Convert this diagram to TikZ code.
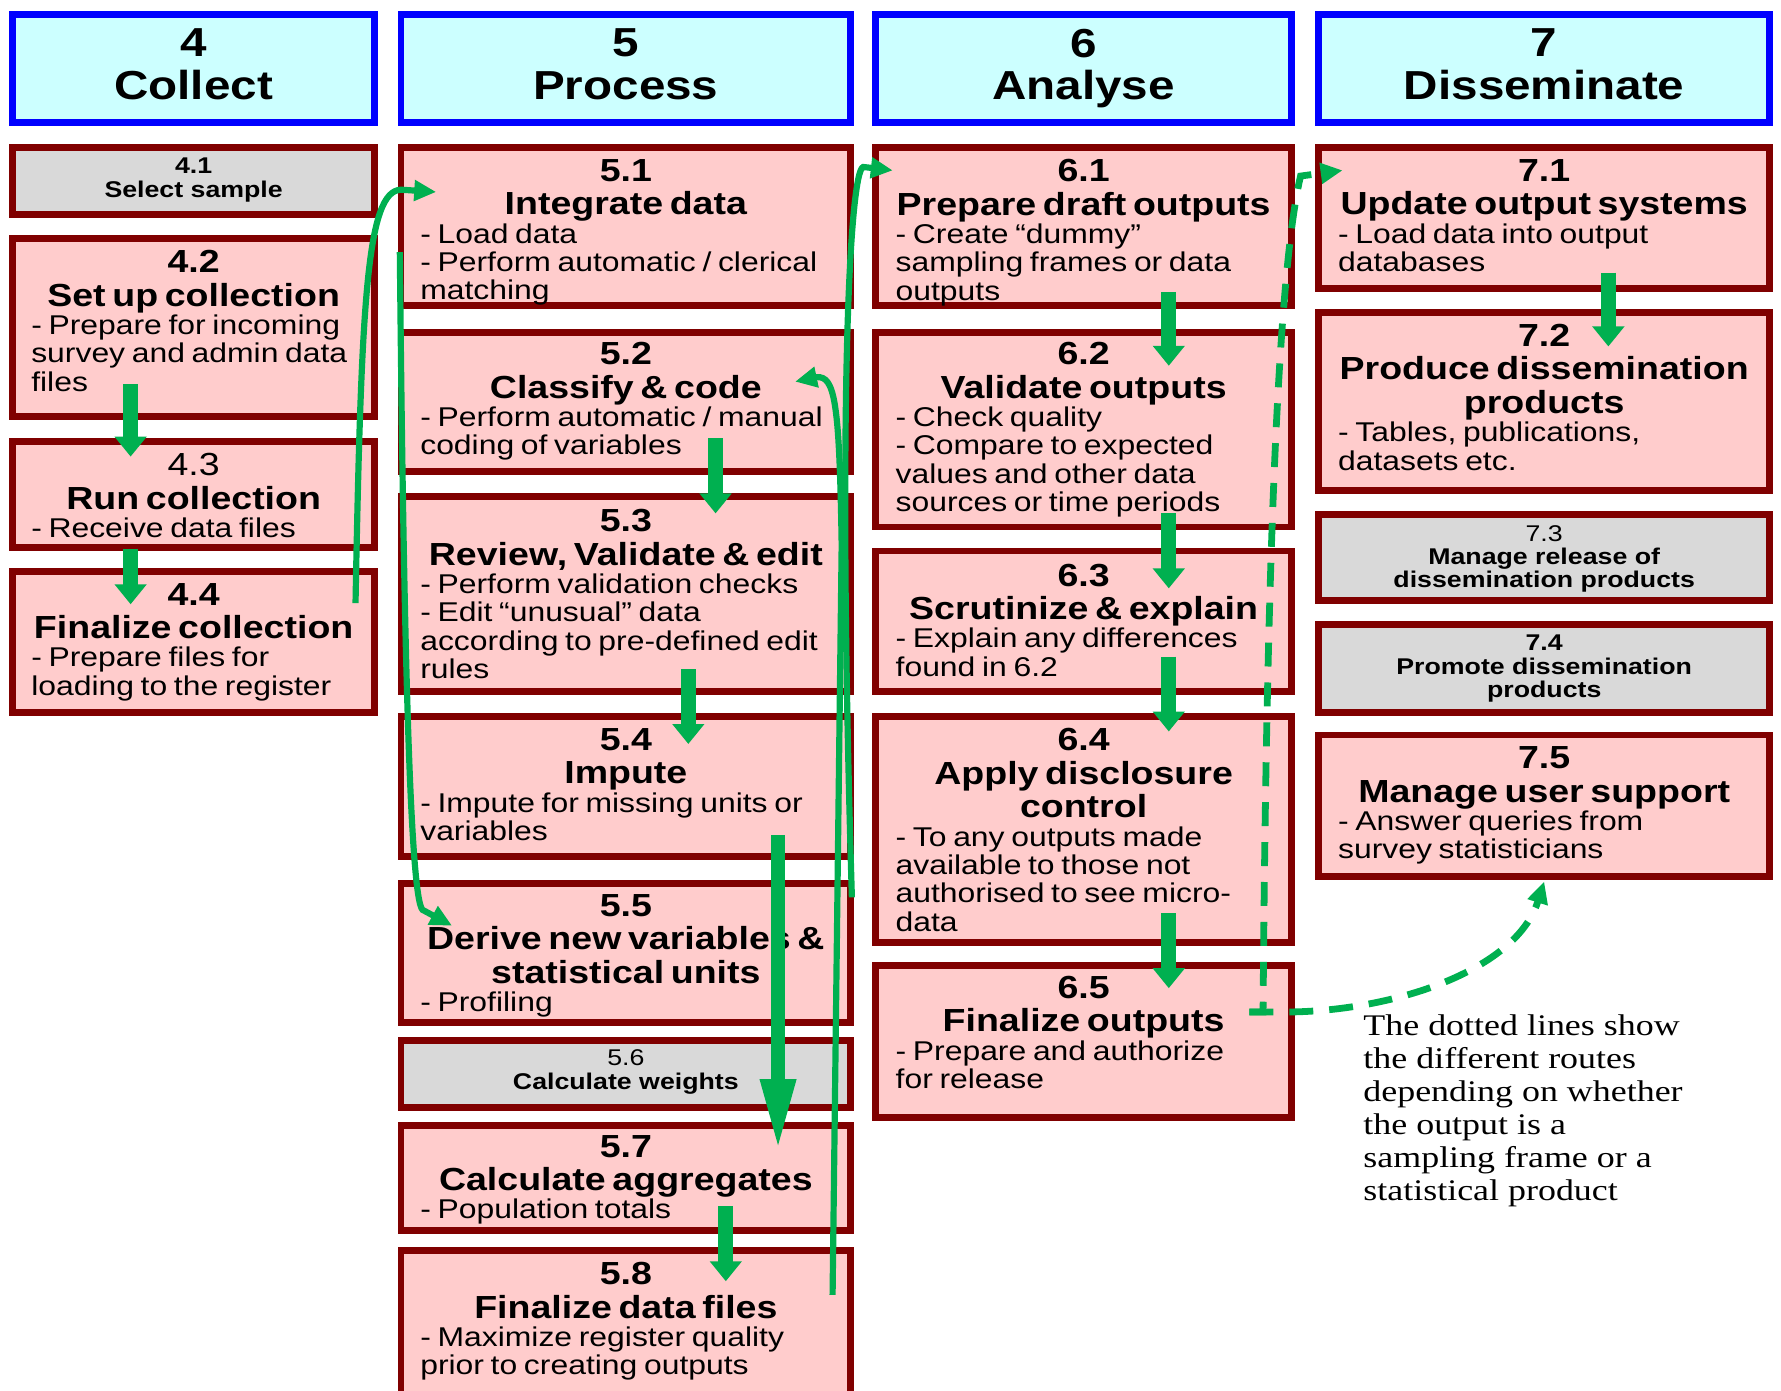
\documentclass[tikz,border=0pt]{standalone}
\usepackage{fontspec}
\setmainfont{Liberation Sans}[FakeStretch=1.175]
\newfontfamily\notefont{Liberation Serif}[FakeStretch=1.2]
\usetikzlibrary{calc,fit,arrows.meta}
\definecolor{hdcyan}{HTML}{CCFFFF}
\definecolor{hdblue}{HTML}{0000FF}
\definecolor{stpink}{HTML}{FFCCCC}
\definecolor{stred}{HTML}{800000}
\definecolor{stgrey}{HTML}{D9D9D9}
\definecolor{flowgreen}{HTML}{00B050}
\newcommand{\stagetxt}[3]{\centering\bfseries\fontsize{16}{16.8}\selectfont #1\\#2\par\raggedright\mdseries\fontsize{13.6}{14.2}\selectfont #3\par}

\begin{document}
\begin{tikzpicture}[x=0.02cm,y=-0.02cm,
  phase/.style={draw=hdblue,fill=hdcyan,line width=3.4pt,inner sep=0pt,outer sep=0pt},
  phasetext/.style={inner sep=0pt,anchor=north,align=center,font=\bfseries\fontsize{20.3}{21.3}\selectfont},
  stage/.style={draw=stred,fill=stpink,line width=3.4pt,inner sep=0pt,outer sep=0pt},
  greystage/.style={stage,fill=stgrey},
  stagetext/.style={inner sep=0pt,anchor=north,align=left,text width=#1},
  greytext/.style={inner sep=0pt,anchor=north,align=center,font=\bfseries\fontsize{11.4}{11.7}\selectfont},
  fat/.style={draw=flowgreen,line width=7.4pt,-{Triangle[length=10pt,width=15.5pt]}},
  flow/.style={draw=flowgreen,line width=3.1pt,-{Triangle[length=11pt,width=10pt]}},
  dashflow/.style={flow,line width=3.4pt,dash pattern=on 12pt off 8pt},
  note/.style={inner sep=0pt,align=left,font=\notefont\fontsize{15}{16.5}\selectfont}]
\useasboundingbox (0,0) rectangle (1568,1224);

\node[phase,fit={(11,13) (330,108)}] (h4) {};
\node[phase,fit={(353,13) (749,108)}] (h5) {};
\node[phase,fit={(771,13) (1137,108)}] (h6) {};
\node[phase,fit={(1161,13) (1558,108)}] (h7) {};
\node[phasetext] (h4t) at ($(h4.north)+(0,12)$) {4\\Collect};
\node[phasetext] (h5t) at ($(h5.north)+(0,12)$) {5\\Process};
\node[phasetext] (h6t) at ($(h6.north)+(0,12)$) {6\\Analyse};
\node[phasetext] (h7t) at ($(h7.north)+(0,12)$) {7\\Disseminate};

\node[greystage,fit={(11,130) (330,189)}] (s41) {};
\node[stage,fit={(11,210) (330,367)}] (s42) {};
\node[stage,fit={(11,389) (330,482)}] (s43) {};
\node[stage,fit={(11,503) (330,627)}] (s44) {};
\node[greytext] (s41t) at ($(s41.north)+(0,9)$) {4.1\\Select sample};
\node[stagetext=5.72cm] (s42t) at ($(s42.north)+(0,10)$) {\stagetxt{4.2}{Set up collection}{- Prepare for incoming\\survey and admin data\\files}};
\node[stagetext=5.72cm] (s43t) at ($(s43.north)+(0,10)$) {\stagetxt{\mdseries 4.3\bfseries}{Run collection}{- Receive data files}};
\node[stagetext=5.72cm] (s44t) at ($(s44.north)+(0,10)$) {\stagetxt{4.4}{Finalize collection}{- Prepare files for\\loading to the register}};

\node[stage,fit={(353,130) (749,269)}] (s51) {};
\node[stage,fit={(353,293) (749,415)}] (s52) {};
\node[stage,fit={(353,437) (749,609)}] (s53) {};
\node[stage,fit={(353,631) (749,754)}] (s54) {};
\node[stage,fit={(353,778) (749,900)}] (s55) {};
\node[greystage,fit={(353,916) (749,975)}] (s56) {};
\node[stage,fit={(353,991) (749,1083)}] (s57) {};
\node[stage,fit={(353,1101) (749,1232)}] (s58) {};
\node[stagetext=7.24cm] (s51t) at ($(s51.north)+(0,10)$) {\stagetxt{5.1}{Integrate data}{- Load data\\- Perform automatic / clerical\\matching}};
\node[stagetext=7.24cm] (s52t) at ($(s52.north)+(0,8)$) {\stagetxt{5.2}{Classify \& code}{- Perform automatic / manual\\coding of variables}};
\node[stagetext=7.24cm] (s53t) at ($(s53.north)+(0,11)$) {\stagetxt{5.3}{Review, Validate \& edit}{- Perform validation checks\\- Edit “unusual” data\\according to pre-defined edit\\rules}};
\node[stagetext=7.24cm] (s54t) at ($(s54.north)+(0,10)$) {\stagetxt{5.4}{Impute}{- Impute for missing units or\\variables}};
\node[stagetext=7.24cm] (s55t) at ($(s55.north)+(0,9)$) {\stagetxt{5.5}{Derive new variables \&\\statistical units}{- Profiling}};
\node[greytext] (s56t) at ($(s56.north)+(0,8)$) {\mdseries 5.6\\Calculate weights};
\node[stagetext=7.24cm] (s57t) at ($(s57.north)+(0,8)$) {\stagetxt{5.7}{Calculate aggregates}{- Population totals}};
\node[stagetext=7.24cm] (s58t) at ($(s58.north)+(0,10)$) {\stagetxt{5.8}{Finalize data files}{- Maximize register quality\\prior to creating outputs}};

\node[stage,fit={(771,130) (1137,269)}] (s61) {};
\node[stage,fit={(771,293) (1137,464)}] (s62) {};
\node[stage,fit={(771,485) (1137,609)}] (s63) {};
\node[stage,fit={(771,631) (1137,830)}] (s64) {};
\node[stage,fit={(771,850) (1137,984)}] (s65) {};
\node[stagetext=6.62cm] (s61t) at ($(s61.north)+(0,10)$) {\stagetxt{6.1}{Prepare draft outputs}{- Create “dummy”\\sampling frames or data\\outputs}};
\node[stagetext=6.62cm] (s62t) at ($(s62.north)+(0,8)$) {\stagetxt{6.2}{Validate outputs}{- Check quality\\- Compare to expected\\values and other data\\sources or time periods}};
\node[stagetext=6.62cm] (s63t) at ($(s63.north)+(0,11)$) {\stagetxt{6.3}{Scrutinize \& explain}{- Explain any differences\\found in 6.2}};
\node[stagetext=6.62cm] (s64t) at ($(s64.north)+(0,10)$) {\stagetxt{6.4}{Apply disclosure\\control}{- To any outputs made\\available to those not\\authorised to see micro-\\data}};
\node[stagetext=6.62cm] (s65t) at ($(s65.north)+(0,9)$) {\stagetxt{6.5}{Finalize outputs}{- Prepare and authorize\\for release}};

\node[stage,fit={(1161,130) (1558,254)}] (s71) {};
\node[stage,fit={(1161,275) (1558,432)}] (s72) {};
\node[greystage,fit={(1161,453) (1558,529)}] (s73) {};
\node[greystage,fit={(1161,550) (1558,627)}] (s74) {};
\node[stage,fit={(1161,647) (1558,772)}] (s75) {};
\node[stagetext=7.26cm] (s71t) at ($(s71.north)+(0,10)$) {\stagetxt{7.1}{Update output systems}{- Load data into output\\databases}};
\node[stagetext=7.26cm] (s72t) at ($(s72.north)+(0,10)$) {\stagetxt{7.2}{Produce dissemination\\products}{- Tables, publications,\\datasets etc.}};
\node[greytext] (s73t) at ($(s73.north)+(0,9)$) {\mdseries 7.3\\Manage release of\\dissemination products};
\node[greytext] (s74t) at ($(s74.north)+(0,9)$) {7.4\\Promote dissemination\\products};
\node[stagetext=7.26cm] (s75t) at ($(s75.north)+(0,10)$) {\stagetxt{7.5}{Manage user support}{- Answer queries from\\survey statisticians}};

\node[note,anchor=north west] (note) at (1200,893) {The dotted lines show\\the different routes\\depending on whether\\the output is a\\sampling frame or a\\statistical product};

\draw[fat] ($(s42.south)+(-55.5,-29)$) -- ($(s43.north)+(-55.5,13)$);
\draw[fat] ($(s43.south)+(-55.5,1)$) -- ($(s44.north)+(-55.5,29)$);
\draw[fat] ($(s52.south)+(79,-29)$) -- ($(s53.north)+(79,15)$);
\draw[fat] ($(s53.south)+(55,-20)$) -- ($(s54.north)+(55,24)$);
\draw[fat,-{Triangle[length=37pt,width=16pt]}] ($(s54.south)+(134,-19)$) -- ($(s57.north)+(134,24)$);
\draw[fat] ($(s57.south)+(88,-21)$) -- ($(s58.north)+(88,27)$);
\draw[fat] ($(s61.south)+(75,-12)$) -- ($(s62.north)+(75,29)$);
\draw[fat] ($(s62.south)+(75,-12)$) -- ($(s63.north)+(75,33)$);
\draw[fat] ($(s63.south)+(75,-31)$) -- ($(s64.north)+(75,13)$);
\draw[fat] ($(s64.south)+(75,-26)$) -- ($(s65.north)+(75,20)$);
\draw[fat] ($(s71.south)+(56.5,-14)$) -- ($(s72.north)+(56.5,30)$);

\draw[flow] ($(s44.north east)+(-17,28)$) .. controls ($(s44.north east)+(-12,-240)$) and ($(s51.north west)+(-30,38)$) .. ($(s51.north west)+(0,37)$) -- ($(s51.north west)+(31,39)$);
\draw[flow] ($(s51.north west)+(-1,92)$) .. controls ($(s51.north west)+(2,390)$) and ($(s55.north west)+(7,12)$) .. ($(s55.north west)+(19,23)$) -- ($(s55.north west)+(45,37)$);
\draw[flow] ($(s58.north east)+(-16,39)$) -- ($(s52.north east)+(-8,187)$) .. controls ($(s52.north east)+(-10,60)$) and ($(s52.north east)+(-14,38)$) .. ($(s52.north east)+(-30,39)$) -- ($(s52.north east)+(-49,43)$);
\draw[flow] ($(s55.north east)+(1,12)$) .. controls ($(s55.north east)+(-12,-420)$) and ($(s61.north west)+(-23,20)$) .. ($(s61.north west)+(-11,17)$) -- ($(s61.north west)+(15,20)$);
\draw[dashflow] ($(s65.north east)+(-37,41)$) -- ($(s65.north east)+(-25,41)$) .. controls ($(s65.north east)+(-22,-350)$) and ($(s71.north west)+(-36,110)$) .. ($(s71.north west)+(-16,25)$) -- ($(s71.north west)+(21,20)$);
\draw[dashflow] ($(s65.north east)+(-37,41)$) -- ($(s65.north east)+(-7,41)$) .. controls ($(s65.north east)+(88,41)$) and ($(s75.south)+(-25,83)$) .. ($(s75.south)+(0,4)$);
\end{tikzpicture}
\end{document}
